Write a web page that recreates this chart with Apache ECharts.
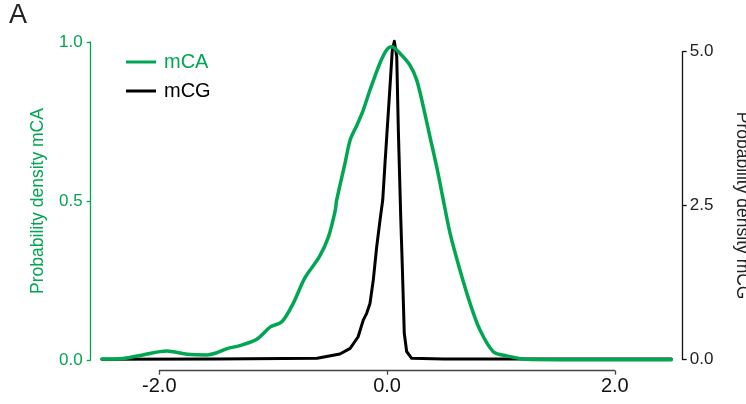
<!DOCTYPE html>
<html>
<head>
<meta charset="utf-8">
<script src="https://cdn.jsdelivr.net/npm/echarts@6/dist/echarts.min.js"></script>
<style>
html,body{margin:0;padding:0;background:#fff;}
#chart{width:746px;height:404px;}
</style>
</head>
<body>
<div id="chart"></div>
<script>
// x positions and densities
var mcaX = [-2.5, -2.31, -2.14, -1.93, -1.75, -1.58, -1.49, -1.40, -1.29, -1.14, -1.02, -0.92, -0.82, -0.72, -0.59, -0.51, -0.45, -0.44, -0.365, -0.32, -0.26, -0.205, -0.146, -0.058, 0.0, 0.045, 0.118, 0.205, 0.264, 0.322, 0.381, 0.44, 0.498, 0.557, 0.644, 0.732, 0.82, 0.937, 1.054, 1.23, 1.5, 2.0, 2.5];
var mcaY = [0.003, 0.005, 0.016, 0.028, 0.018, 0.016, 0.023, 0.036, 0.045, 0.065, 0.104, 0.120, 0.178, 0.257, 0.325, 0.388, 0.472, 0.50, 0.619, 0.692, 0.739, 0.786, 0.849, 0.934, 0.975, 0.985, 0.964, 0.927, 0.881, 0.797, 0.702, 0.607, 0.503, 0.399, 0.283, 0.179, 0.094, 0.026, 0.013, 0.002, 0.001, 0.001, 0.001];
var mcgX = [-2.5, -1.5, -0.9, -0.61, -0.41, -0.32, -0.25, -0.205, -0.175, -0.146, -0.117, -0.087, -0.058, -0.034, -0.014, 0.024, 0.05, 0.068, 0.089, 0.103, 0.124, 0.138, 0.155, 0.176, 0.22, 0.5, 1.5, 2.5];
var mcgY = [0.005, 0.01, 0.015, 0.02, 0.089, 0.18, 0.37, 0.64, 0.75, 0.91, 1.29, 1.83, 2.26, 2.59, 3.19, 4.27, 5.02, 5.17, 4.92, 3.73, 2.32, 1.51, 0.43, 0.13, 0.02, 0.01, 0.01, 0.01];
var seriesNames = ['mCA', 'mCG'];
var dataRange = [-2.5, 2.5];
var xTicks = [-2, 0, 2];
var leftTicks = [0, 0.5, 1.0];
var rightTicks = [0, 2.5, 5.0];
var panelLabel = 'A';
var leftTitle = 'Probability density mCA';
var rightTitle = 'Probability density mCG';

function pairs(xs, ys) { return xs.map(function (x, i) { return [x, ys[i]]; }); }

var GREEN = '#00a651';
var FONT = 'Liberation Sans, Arial, Helvetica, sans-serif';
var NONE = 'rgba(0,0,0,0)';
var fmt1 = function (v) { return Number(v).toFixed(1); };
function hidden(extra) {
  return Object.assign({
    show: false,
    axisLine: {show: false, onZero: false, lineStyle: {color: NONE, width: 0}},
    axisTick: {show: false, lineStyle: {color: NONE, width: 0}},
    axisLabel: {show: false, color: NONE},
    splitLine: {show: false},
    splitArea: {show: false},
    minorTick: {show: false},
    minorSplitLine: {show: false}
  }, extra);
}

var chart = echarts.init(document.getElementById('chart'), null, {renderer: 'canvas'});
chart.setOption({
  animation: false,
  backgroundColor: '#fff',
  textStyle: {fontFamily: FONT},
  title: {
    text: panelLabel, left: 9, top: 2, padding: 0,
    textStyle: {fontSize: 27, fontWeight: 'normal', color: '#222', fontFamily: FONT}
  },
  legend: {
    orient: 'vertical', left: 126, top: 52, padding: 0,
    itemWidth: 30, itemHeight: 3, itemGap: 9, icon: 'rect',
    data: [
      {name: seriesNames[0], textStyle: {color: GREEN}},
      {name: seriesNames[1], textStyle: {color: '#000'}}
    ],
    textStyle: {fontSize: 20, fontFamily: FONT, padding: [0, 0, 0, 3]}
  },
  grid: [
    {left: 101.9, right: 74.7, top: 42, bottom: 44, containLabel: false, outerBoundsMode: 'none'},
    {left: 101.9, right: 74.7, top: 51.7, bottom: 44.5, containLabel: false, outerBoundsMode: 'none'},
    {left: 159.3, right: 131.2, top: 42, bottom: 44, containLabel: false, outerBoundsMode: 'none'}
  ],
  xAxis: [
    hidden({type: 'value', gridIndex: 0, min: dataRange[0], max: dataRange[1]}),
    hidden({type: 'value', gridIndex: 1, min: dataRange[0], max: dataRange[1]}),
    {
      type: 'value', gridIndex: 2, min: xTicks[0], max: xTicks[xTicks.length - 1], interval: 2,
      offset: 10.7,
      axisLine: {onZero: false, lineStyle: {color: '#444', width: 1.3}},
      axisTick: {length: 4, lineStyle: {color: '#444', width: 1.3}},
      splitLine: {show: false},
      axisLabel: {fontSize: 20, color: '#111', margin: 6, fontFamily: FONT, formatter: fmt1}
    }
  ],
  yAxis: [
    {
      type: 'value', gridIndex: 0, position: 'left', offset: 11.2,
      min: leftTicks[0], max: leftTicks[leftTicks.length - 1], interval: 0.5,
      name: leftTitle, nameLocation: 'middle', nameGap: 44, nameRotate: 90,
      nameTextStyle: {color: GREEN, fontSize: 17.5, fontFamily: FONT},
      axisLine: {show: true, onZero: false, lineStyle: {color: GREEN, width: 1.3}},
      axisTick: {show: true, length: 4, lineStyle: {color: GREEN, width: 1.3}},
      splitLine: {show: false},
      axisLabel: {fontSize: 17, color: GREEN, margin: 8, fontFamily: FONT, formatter: fmt1}
    },
    {
      type: 'value', gridIndex: 1, position: 'right', offset: 11.4,
      min: rightTicks[0], max: rightTicks[rightTicks.length - 1], interval: 2.5,
      name: rightTitle, nameLocation: 'middle', nameGap: 50, nameRotate: -90,
      nameTextStyle: {color: '#222', fontSize: 17.5, fontFamily: FONT},
      axisLine: {show: true, onZero: false, lineStyle: {color: '#111', width: 1.3}},
      axisTick: {show: true, length: 4, lineStyle: {color: '#111', width: 1.3}},
      splitLine: {show: false},
      axisLabel: {fontSize: 17, color: '#222', margin: 7, fontFamily: FONT, formatter: fmt1}
    },
    hidden({type: 'value', gridIndex: 2, min: 0, max: 1})
  ],
  series: [
    {
      name: seriesNames[1], type: 'line', xAxisIndex: 1, yAxisIndex: 1,
      data: pairs(mcgX, mcgY), showSymbol: false, smooth: false, clip: false, z: 2,
      color: '#000',
      lineStyle: {color: '#000', width: 3, cap: 'round', join: 'round'}
    },
    {
      name: seriesNames[0], type: 'line', xAxisIndex: 0, yAxisIndex: 0,
      data: pairs(mcaX, mcaY), showSymbol: false, smooth: 0.3, clip: false, z: 3,
      color: GREEN,
      lineStyle: {color: GREEN, width: 3.5, cap: 'round', join: 'round'}
    }
  ]
});
</script>
</body>
</html>
